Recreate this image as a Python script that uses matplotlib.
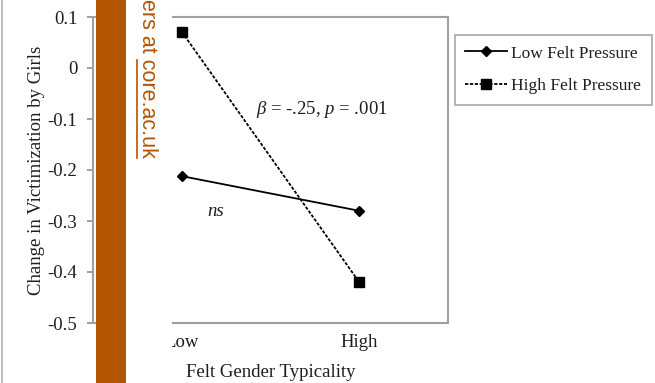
import matplotlib.pyplot as plt
from matplotlib.patches import Rectangle
from matplotlib.lines import Line2D

# data
typicality = ['Low', 'High']
low_pressure = [-0.212, -0.280]
high_pressure = [0.071, -0.420]
yticks = [0.1, 0, -0.1, -0.2, -0.3, -0.4, -0.5]
ytick_labels = ['0.1', '0', '-0.1', '-0.2', '-0.3', '-0.4', '-0.5']

plt.rcParams['font.family'] = ['Liberation Serif', 'DejaVu Serif']
plt.rcParams['mathtext.fontset'] = 'custom'
plt.rcParams['mathtext.it'] = 'Liberation Serif:italic'
plt.rcParams['mathtext.rm'] = 'Liberation Serif'
TXT = '#1e1e1e'

W, H = 655, 383
fig = plt.figure(figsize=(W / 100, H / 100), dpi=100)
ax = fig.add_axes([93 / W, 1 - 323 / H, (448 - 93) / W, (323 - 17) / H])

x = range(len(typicality))
ax.plot(x, low_pressure, color='black', lw=1.3, marker='D', ms=5,
        label='Low Felt Pressure')
ax.plot(x, high_pressure, color='black', lw=1.3, ls=(0, (1.8, 0.9)), marker='s', ms=7,
        label='High Felt Pressure')

ax.set_xlim(-0.5, 1.5)
ax.set_ylim(-0.5, 0.1)
ax.set_xticks(list(x))
ax.set_xticklabels(typicality, fontsize=13.5, color=TXT)
ax.set_yticks(yticks)
ax.set_yticklabels(ytick_labels, fontsize=13.5, color=TXT)
ax.tick_params(axis='x', length=0, pad=8)
ax.tick_params(axis='y', length=4.3, width=1.2, color='#909090', pad=7)
for s in ax.spines.values():
    s.set_color('#a0a0a0')
    s.set_linewidth(1.5)

ax.set_xlabel('Felt Gender Typicality', fontsize=13.5, color=TXT, labelpad=9)
ax.set_ylabel('Change in Victimization by Girls', fontsize=13.5, color=TXT, labelpad=2)

ax.text(0.79, 0.1 - (109 - 17) / 510, r'$\beta$ = -.25, $p$ = .001', fontsize=13.5,
        ha='center', va='center', color=TXT)
ax.text(0.19, 0.1 - (212 - 17) / 510, 'ns', fontsize=13.5, style='italic',
        ha='center', va='center', color=TXT)

leg = fig.legend(loc='upper left', bbox_to_anchor=(455 / W, 1 - 35 / H), fontsize=12.5,
                 frameon=True, fancybox=False, handlelength=2.4, handletextpad=0.25,
                 borderpad=0.6, labelspacing=0.95, borderaxespad=0)
leg.get_frame().set_edgecolor('#909090')
leg.get_frame().set_linewidth(1.2)
for t in leg.get_texts():
    t.set_color(TXT)

# overlay strip on the left of the screenshot
fig.add_artist(Rectangle((126 / W, 0), (172 - 126) / W, 1, transform=fig.transFigure,
                         facecolor='white', edgecolor='none', zorder=10))
fig.add_artist(Rectangle((96 / W, 0), (126 - 96) / W, 1, transform=fig.transFigure,
                         facecolor='#b35400', edgecolor='none', zorder=11))
fig.text(147 / W, 1 + 1 / H, 'ers at core.ac.uk', rotation=-90, ha='center', va='top',
         fontsize=15.5, color='#b35400', family='Liberation Sans', zorder=12)
fig.add_artist(Line2D([137 / W, 137 / W], [1 - 60 / H, 1 - 158 / H], transform=fig.transFigure,
                      color='#b35400', lw=1.2, zorder=12))
fig.add_artist(Line2D([2 / W, 2 / W], [0, 1], transform=fig.transFigure,
                      color='#b0b0b0', lw=1.2, zorder=12))

fig.savefig('out.png', dpi=100)
